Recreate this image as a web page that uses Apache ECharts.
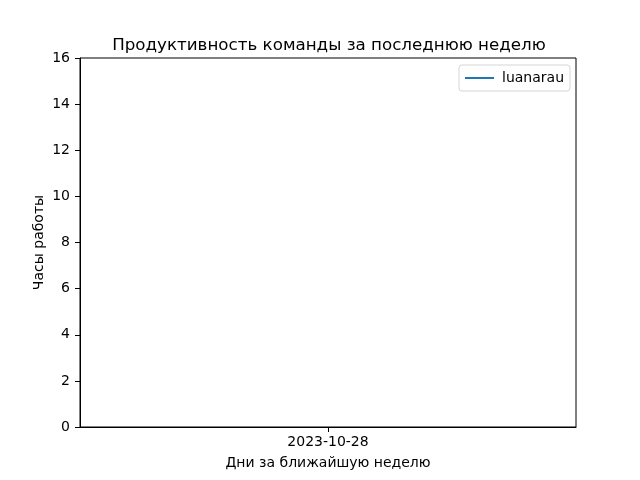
<!DOCTYPE html>
<html><head><meta charset="utf-8">
<script src="https://cdn.jsdelivr.net/npm/echarts@6/dist/echarts.min.js"></script>
<style>html,body{margin:0;padding:0;background:#fff}#c{width:640px;height:480px}</style>
</head><body><div id="c"></div>
<script>
const categories = ['2023-10-28'];
const hoursLuanarau = [8];
const yTicks = [0, 2, 4, 6, 8, 10, 12, 14, 16];
const seriesName = 'luanarau';

const chart = echarts.init(document.getElementById('c'), null, {renderer: 'canvas'});
const font = 'DejaVu Sans';
chart.setOption({
  animation: false,
  backgroundColor: '#fff',
  title: {
    text: 'Продуктивность команды за последнюю неделю',
    left: 324, top: 32, textAlign: 'center',
    textStyle: {fontFamily: font, fontSize: 16.7, fontWeight: 'normal', color: '#000'}
  },
  legend: {
    data: [seriesName],
    right: 70, top: 65,
    itemWidth: 29, itemHeight: 2, itemGap: 10,
    padding: [6, 6, 6, 6],
    borderColor: '#d5d5d5', borderWidth: 1, borderRadius: 3,
    icon: 'rect',
    textStyle: {fontFamily: font, fontSize: 14, color: '#000', padding: [0, 0, 0, 3]}
  },
  grid: {left: 80, right: 64, top: 58, bottom: 53, show: true, borderColor: '#000', borderWidth: 1},
  xAxis: {
    type: 'category', data: categories, boundaryGap: true,
    name: 'Дни за ближайшую неделю', nameLocation: 'middle', nameGap: 29,
    nameMoveOverlap: false,
    nameTextStyle: {fontFamily: font, fontSize: 14, color: '#000'},
    axisLine: {show: true, lineStyle: {color: '#000', width: 1}},
    axisTick: {show: true, alignWithLabel: true, length: 5, lineStyle: {color: '#000'}},
    axisLabel: {fontFamily: font, fontSize: 14, color: '#000', margin: 8},
    splitLine: {show: false}
  },
  yAxis: {
    type: 'value', min: yTicks[0], max: yTicks[yTicks.length - 1], interval: 2,
    name: 'Часы работы', nameLocation: 'middle', nameGap: 34, nameRotate: 90,
    nameMoveOverlap: false,
    nameTextStyle: {fontFamily: font, fontSize: 14, color: '#000'},
    axisLine: {show: true, lineStyle: {color: '#000', width: 1}},
    axisTick: {show: true, length: 5, lineStyle: {color: '#000'}},
    axisLabel: {fontFamily: font, fontSize: 14, color: '#000', margin: 10},
    splitLine: {show: false}
  },
  series: [{
    name: seriesName, type: 'line', data: hoursLuanarau,
    showSymbol: false, symbol: 'none',
    lineStyle: {color: '#1f77b4', width: 1.5},
    itemStyle: {color: '#1f77b4'}
  }]
});
</script></body></html>
